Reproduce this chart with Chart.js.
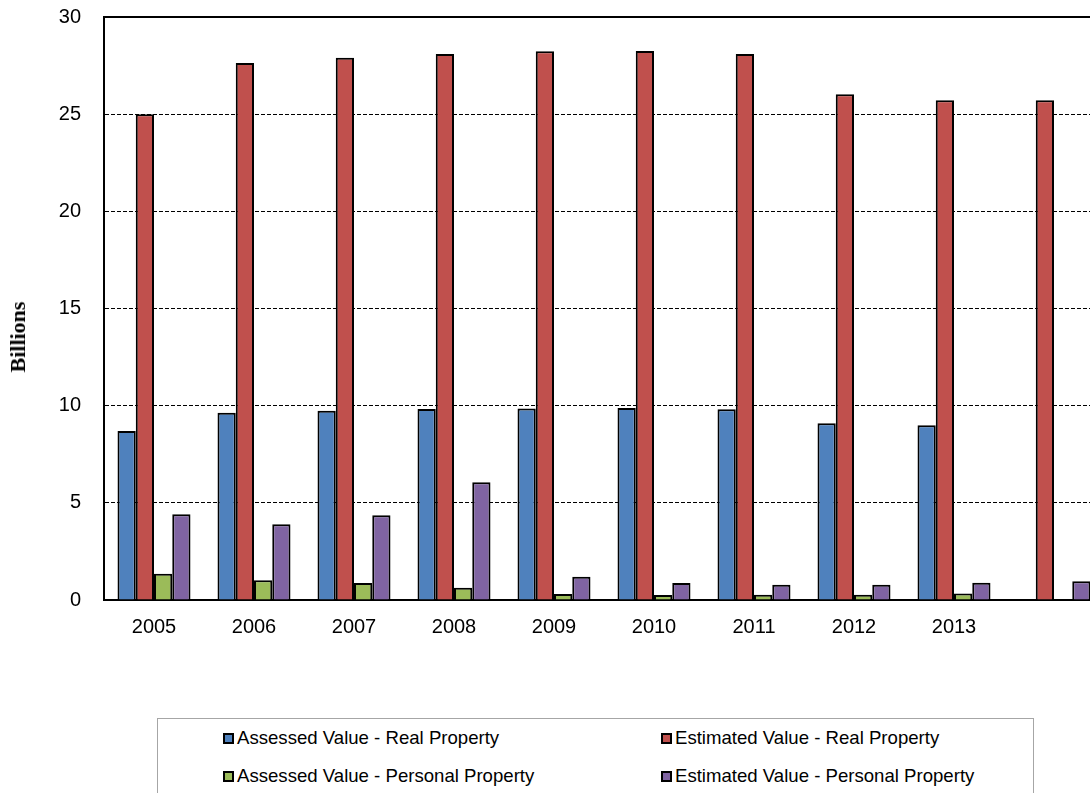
<!DOCTYPE html>
<html lang="en">
  <head>
    <meta charset="UTF-8" />
    <title>Assessed and Estimated Property Values</title>
    <script src="https://cdn.jsdelivr.net/npm/chart.js@4.4.1/dist/chart.umd.min.js"></script>
    <style>
      body {
        margin: 0;
        background: #ffffff;
        overflow: hidden;
        font-family: "Liberation Sans", Arial, sans-serif;
      }

      .chart-container {
        position: absolute;
        left: 0;
        top: 0;
        width: 1104px;
        height: 700px;
      }

      .y-title {
        position: absolute;
        left: 18px;
        top: 337px;
        transform: translate(-50%, -50%) rotate(-90deg);
        font-family: "Liberation Serif", "Times New Roman", serif;
        font-weight: bold;
        font-size: 22px;
        white-space: nowrap;
      }

      .legend-box {
        position: absolute;
        left: 157px;
        top: 718px;
        width: 877px;
        height: 120px;
        border: 1px solid #a6a6a6;
        box-sizing: border-box;
      }

      .legend-item {
        position: absolute;
        font-size: 18.6px;
        white-space: nowrap;
        display: flex;
        align-items: center;
        transform: translateY(-50%);
      }

      .legend-item span.swatch {
        display: inline-block;
        width: 7px;
        height: 7px;
        border: 2px solid #000;
        margin-right: 3px;
      }
    </style>
  </head>
  <body>
    <div class="chart-container">
      <canvas id="valueChart"></canvas>
    </div>
    <div class="y-title">Billions</div>
    <div class="legend-box"></div>
    <div id="legend"></div>

    <script>
      // values in billions
      const years = ["2005", "2006", "2007", "2008", "2009", "2010", "2011", "2012", "2013", ""];
      const assessedReal = [8.7, 9.64, 9.74, 9.83, 9.85, 9.88, 9.81, 9.09, 8.99, null];
      const estimatedReal = [25.0, 27.63, 27.9, 28.1, 28.24, 28.25, 28.1, 26.03, 25.72, 25.72];
      const assessedPersonal = [1.35, 1.02, 0.87, 0.63, 0.31, 0.26, 0.27, 0.27, 0.33, null];
      const estimatedPersonal = [4.41, 3.9, 4.36, 6.06, 1.19, 0.88, 0.78, 0.78, 0.89, 0.96];
      const yTicks = [0, 5, 10, 15, 20, 25, 30];

      const seriesNames = [
        "Assessed Value - Real Property",
        "Estimated Value - Real Property",
        "Assessed Value - Personal Property",
        "Estimated Value - Personal Property",
      ];
      const seriesColors = ["#4f81bd", "#c0504d", "#9bbb59", "#8064a2"];
      const seriesData = [assessedReal, estimatedReal, assessedPersonal, estimatedPersonal];

      const datasets = seriesData.map((d, i) => ({
        label: seriesNames[i],
        data: d,
        backgroundColor: seriesColors[i],
        borderColor: "#000000",
        borderWidth: 2,
        categoryPercentage: 0.73,
        barPercentage: 1.0,
      }));

      const ctx = document.getElementById("valueChart").getContext("2d");
      const valueChart = new Chart(ctx, {
        type: "bar",
        data: { labels: years, datasets: datasets },
        options: {
          responsive: true,
          maintainAspectRatio: false,
          animation: false,
          layout: { padding: { top: 17, left: 0, right: 0, bottom: 0 } },
          plugins: {
            legend: { display: false },
            tooltip: { enabled: false },
          },
          scales: {
            x: {
              grid: { display: false },
              border: { display: true, color: "#000000", width: 2 },
              ticks: {
                color: "#000000",
                padding: 7,
                maxRotation: 0,
                autoSkip: false,
                font: { family: "'Liberation Sans', Arial", size: 20 },
              },
              afterFit: (scale) => {
                scale.height = 100;
                scale.paddingLeft = 0;
                scale.paddingRight = 0;
              },
            },
            y: {
              min: 0,
              max: 30,
              afterBuildTicks: (scale) => {
                scale.ticks = yTicks.map((v) => ({ value: v }));
              },
              grid: {
                color: "#000000",
                drawTicks: false,
                lineWidth: (c) => (c.tick && c.tick.value === 30 ? 2 : 1),
              },
              border: {
                display: true,
                color: "#000000",
                width: 2,
                dash: (c) => (c.tick && c.tick.value === 30 ? [] : [4, 2]),
              },
              ticks: {
                color: "#000000",
                padding: 23,
                font: { family: "'Liberation Sans', Arial", size: 20 },
              },
              afterFit: (scale) => {
                scale.width = 104;
                scale.paddingTop = 0;
                scale.paddingBottom = 0;
              },
            },
          },
        },
      });

      // legend in two columns, like the original
      const legend = document.getElementById("legend");
      seriesNames.forEach((name, i) => {
        const item = document.createElement("div");
        item.className = "legend-item";
        item.style.left = 223 + (i % 2) * 438 + "px";
        item.style.top = 738 + Math.floor(i / 2) * 38 + "px";
        const sw = document.createElement("span");
        sw.className = "swatch";
        sw.style.background = seriesColors[i];
        item.appendChild(sw);
        item.appendChild(document.createTextNode(name));
        legend.appendChild(item);
      });
    </script>
  </body>
</html>
